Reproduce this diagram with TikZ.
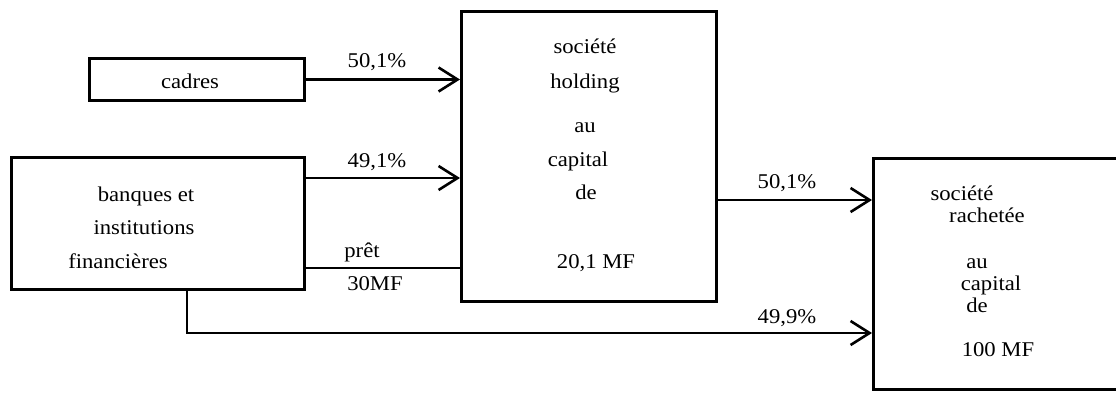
\documentclass[tikz,border=0pt]{standalone}
\usepackage{fontspec}
\setmainfont[FakeStretch=1.08]{Liberation Serif}
\usetikzlibrary{arrows.meta}

\tikzset{
  boite/.style={draw, line width=3pt, inner sep=0pt, anchor=north west},
  lien/.style={line width=2.4pt},
  fleche/.style={lien, -{Straight Barb[length=19pt,width=24pt,line width=2.6pt]}},
  txt/.style={inner sep=0pt, anchor=base, font=\fontsize{21}{25}\selectfont},
}

\begin{document}
\begin{tikzpicture}[x=1pt,y=-1pt]
  \useasboundingbox (0,0) rectangle (1116,392);

  % les boites
  \node[boite, minimum width=215pt, minimum height=42pt] (cadres) at (88,57) {};
  \node[txt] (tcadres) at (190,88) {cadres};

  \node[boite, minimum width=293pt, minimum height=132pt] (banques) at (10,156) {};
  \node[txt] (b1) at (146,201) {banques et};
  \node[txt] (b2) at (144,234) {institutions};
  \node[txt] (b3) at (118,268) {financières};

  \node[boite, minimum width=255pt, minimum height=290pt] (holding) at (460,10) {};
  \node[txt] (h1) at (585,53) {société};
  \node[txt] (h2) at (585,88) {holding};
  \node[txt] (h3) at (585,132) {au};
  \node[txt] (h4) at (578,166) {capital};
  \node[txt] (h5) at (586,199) {de};
  \node[txt] (h6) at (596,268) {20,1 MF};

  \node[boite, minimum width=260pt, minimum height=231pt] (rachetee) at (872,157) {};
  \node[txt] (r1) at (962,200) {société};
  \node[txt] (r2) at (987,222) {rachetée};
  \node[txt] (r3) at (977,268) {au};
  \node[txt] (r4) at (991,290) {capital};
  \node[txt] (r5) at (977,312) {de};
  \node[txt] (r6) at (998,356) {100 MF};

  % les liens
  \draw[fleche] (cadres.east) -- (cadres.east -| holding.west);
  \node[txt] (p1) at (377,67) {50,1\%};

  \coordinate (dep1) at (303,178);
  \draw[fleche] (dep1) -- (dep1 -| holding.west);
  \node[txt] (p2) at (377,167) {49,1\%};

  \coordinate (dep2) at (303,268);
  \draw[lien] (dep2) -- (dep2 -| holding.west);
  \node[txt] (pret) at (362,257) {prêt};
  \node[txt] (mf) at (375,290) {30MF};

  \coordinate (dep3) at (715,200);
  \draw[fleche] (dep3) -- (dep3 -| rachetee.west);
  \node[txt] (p3) at (787,188) {50,1\%};

  \coordinate (coin) at (187,333);
  \draw[fleche] (coin |- banques.south) -- (coin) -- (coin -| rachetee.west);
  \node[txt] (p4) at (787,323) {49,9\%};
\end{tikzpicture}
\end{document}
